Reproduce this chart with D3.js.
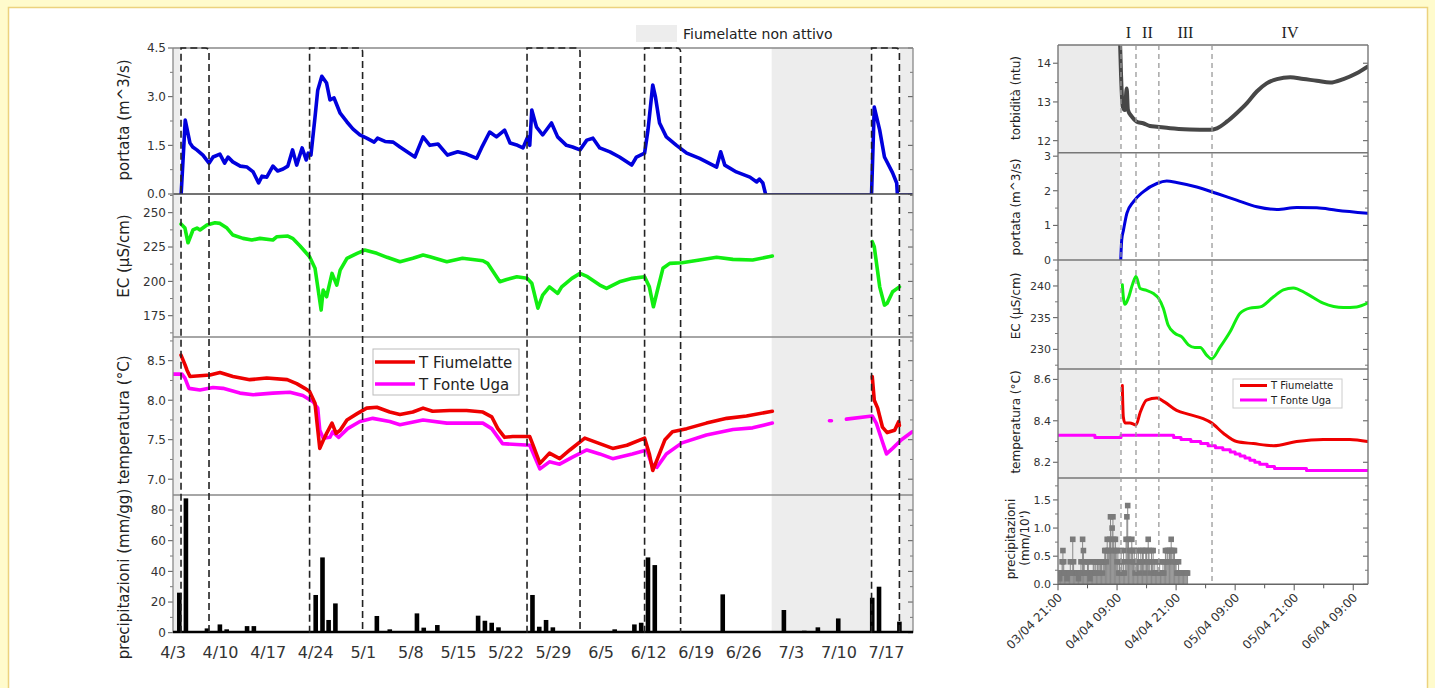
<!DOCTYPE html>
<html>
<head>
<meta charset="utf-8">
<script src="https://cdn.jsdelivr.net/npm/d3@7"></script>
<style>
  body { margin: 0; background: #fffbcc; }
  svg { display: block; font-family: "DejaVu Sans", Verdana, sans-serif; }
</style>
</head>
<body>
<svg id="chart" width="1435" height="688"></svg>
<script>
// ---- left chart data (days after 4/3) ----
const flowDay = [1.2,1.8,2.5,2.9,3.5,4.4,5.3,5.9,6.9,7.6,8.1,8.8,9.9,10.9,11.8,12.6,13.1,13.8,14.7,15.4,16.2,16.9,17.6,18.2,19.0,19.6,19.9,20.3,20.9,21.3,21.9,22.6,23.1,23.7,24.6,25.6,26.5,27.5,28.5,29.6,30.1,31.2,32.4,33.4,35.6,36.8,37.8,39.0,40.4,41.9,43.2,44.7,45.4,46.6,47.6,48.8,49.6,50.7,51.5,52.2,52.5,52.8,53.5,54.4,55.7,56.6,57.9,58.8,59.9,60.9,61.8,62.8,64.3,65.7,67.5,68.2,69.4,69.9,70.6,71.0,71.6,72.6,74.1,75.6,77.5,80.0,80.6,81.2,82.9,84.9,85.9,86.3,86.8,87.2,null,102.8,103.2,104.0,104.7,105.9,106.5,106.6];
const flowQ   = [0,2.28,1.57,1.45,1.36,1.2,0.95,1.14,1.23,0.95,1.14,0.99,0.86,0.83,0.68,0.34,0.55,0.52,0.86,0.71,0.77,0.86,1.36,0.89,1.42,1.05,1.26,1.2,2.37,3.2,3.63,3.42,2.9,2.96,2.49,2.22,2.0,1.82,1.72,1.6,1.72,1.62,1.6,1.45,1.14,1.76,1.5,1.54,1.2,1.3,1.23,1.1,1.42,1.91,1.76,1.97,1.57,1.5,1.42,1.76,1.5,2.59,2.06,1.82,2.19,1.76,1.5,1.45,1.36,1.66,1.72,1.42,1.3,1.14,0.89,1.14,1.26,1.97,3.36,2.99,2.19,1.76,1.5,1.26,1.1,0.83,1.3,0.89,0.68,0.52,0.37,0.46,0.34,0,null,0,2.68,1.97,1.14,0.65,0.34,0];
const flowZero = [[87.2, 102.8], [106.6, 108.9]];

const ecDay = [1.18,1.76,2.21,2.94,3.53,3.97,5.0,6.18,6.91,7.94,8.82,10.3,11.6,12.8,14.7,15.3,16.9,17.6,18.7,20.1,20.9,21.3,21.8,22.1,22.6,23.4,24.1,24.6,25.6,27.1,28.2,30.0,31.5,33.4,35.3,36.8,37.8,40.3,42.6,45.6,46.3,48.1,49.1,50.6,52.1,52.8,53.7,54.4,55.4,56.6,57.2,58.7,59.9,61.0,62.8,63.8,65.7,67.6,69.4,70.1,70.7,71.3,72.1,73.1,74.9,77.5,80.0,82.4,85.3,88.2,null,102.9,103.2,104.0,104.7,105.1,105.9,106.9];
const ecVal = [241.8,238.8,228.1,237.4,238.8,237.4,241,242.7,242.2,238.8,233.7,231.3,230.1,231.3,230.1,232.5,233,231.3,225.7,217.9,209.5,196,179.1,193.7,188.8,205.8,197.3,208.2,216.8,220.4,222.8,220.4,217.5,214.3,216.8,219.2,217.9,214.3,216.8,215,213.1,199.7,201.4,203.4,202.2,198.6,180.5,190,196,191.2,196,202.2,205.8,203.4,197.3,194.9,199.7,202.2,203.4,196,181.5,193.7,209.5,213.1,213.6,215.5,217.5,216,215.5,218.4,null,228.9,225.2,196,182.7,184,192.4,196];

const tfDay = [1.18,1.47,1.76,2.06,2.5,3.97,5.44,6.91,8.82,11.3,13.8,16.8,18.2,19.4,20.1,20.9,21.2,21.6,22.1,22.6,23.4,24.0,24.6,25.6,27.1,28.5,30.0,31.9,33.4,35.3,36.8,38.2,40.7,43.2,45.6,46.9,47.8,48.8,50.0,52.5,52.9,54.0,55.4,56.9,58.4,60.6,62.8,64.7,66.8,69.4,70.1,70.6,71.3,72.4,73.5,75.6,78.5,81.5,84.4,88.2,null,102.9,103.2,103.7,104.4,105.1,106.2,106.8,106.9];
const tfVal = [8.57,8.51,8.45,8.38,8.3,8.31,8.32,8.35,8.3,8.26,8.28,8.26,8.21,8.15,8.11,7.96,7.71,7.39,7.49,7.58,7.71,7.58,7.62,7.75,7.83,7.9,7.91,7.85,7.82,7.85,7.9,7.86,7.87,7.87,7.85,7.79,7.64,7.53,7.54,7.54,7.45,7.2,7.33,7.26,7.37,7.52,7.45,7.39,7.43,7.52,7.32,7.11,7.26,7.5,7.6,7.64,7.71,7.77,7.8,7.86,null,8.3,8.0,7.9,7.66,7.59,7.62,7.73,7.68];

const tuDay = [0,1.32,1.76,2.35,3.97,5.88,7.35,9.85,11.8,14.7,17.2,19.1,20.6,21.3,21.6,22.1,23.1,23.5,24.4,25.7,27.5,29.4,31.9,33.4,36.8,40.3,45.6,46.9,48.5,52.5,54.0,55.4,56.9,58.8,60.9,62.8,64.7,67.6,69.7,70.4,71.2,72.6,74.9,78.5,82.4,85.3,88.2,null,96.6,96.9,null,99.1,102.9,103.5,104.3,105.0,105.9,107.2,108.8];
const tuVal = [8.33,8.33,8.28,8.15,8.13,8.16,8.15,8.09,8.07,8.09,8.1,8.06,7.98,7.9,7.62,7.52,7.53,7.6,7.53,7.64,7.73,7.77,7.73,7.69,7.75,7.71,7.71,7.64,7.45,7.43,7.13,7.22,7.19,7.28,7.37,7.32,7.26,7.32,7.37,7.2,7.15,7.32,7.46,7.56,7.63,7.65,7.71,null,7.74,7.74,null,7.76,7.8,7.71,7.5,7.32,7.39,7.5,7.6];

const rainDay = [0.93,1.9,4.0,5.0,6.9,7.9,10.9,11.9,16.0,16.9,21.0,22.0,22.9,23.9,30.0,30.9,31.9,35.9,36.9,38.9,44.9,45.9,46.9,47.9,52.9,53.9,54.9,55.9,65.0,67.9,68.9,69.9,70.9,80.9,89.9,92.9,94.9,97.9,102.9,103.9,106.9];
const rainMm  = [26.1,87.6,1.1,2.8,5.4,2.2,4.3,4.3,0.7,1.1,24.6,49.1,8.3,19.1,10.9,0.7,2.2,12.6,3.3,5.0,11.1,7.8,6.5,3.5,24.6,3.9,8.3,3.5,2.2,5.4,6.5,49.1,44.1,25,14.8,1.3,3.5,9.3,22.8,30,7.2];

const eventDays = [[1.18, 5.3], [20.1, 27.9], [52.1, 59.9], [69.4, 74.7], [102.8, 106.9]];
const offDays = [[0, 1.0], [88.1, 102.6], [107.0, 108.9]];

// ---- right chart data (hours after 03/04 21:00) ----
const turbHour = [12.5,12.8,13.15,13.6,13.96,14.2,15.0,16.0,17.3,18.7,20.1,22.8,26.8,30.9,32.3,34.3,36.3,38.4,40.4,42.4,44.5,47.2,49.9,52.6,55.3,58.0,60.7,62.9];
const turbVal  = [15,13.74,12.88,12.79,13.35,12.8,12.62,12.49,12.45,12.38,12.36,12.32,12.29,12.28,12.32,12.49,12.71,12.97,13.27,13.48,13.59,13.64,13.59,13.55,13.5,13.59,13.74,13.91];

const qHour = [12.75,12.95,13.3,14.0,15.3,17.3,20.1,22.1,24.1,28.2,32.3,36.3,40.4,44.5,48.5,52.6,56.6,62.9];
const qVal  = [0,0.58,0.86,1.35,1.68,1.97,2.21,2.28,2.24,2.11,1.92,1.73,1.54,1.46,1.52,1.51,1.44,1.35];

const ecHour = [13.07,13.27,13.6,14.3,15.2,15.85,16.7,18.0,19.4,20.4,21.4,22.4,23.8,25.1,26.5,27.8,28.9,30.2,31.2,32.9,35.0,37.0,39.0,41.1,43.8,45.8,47.8,50.5,53.9,58.0,60.7,62.9];
const ecValR = [240.2,238.3,237.1,238.1,240.4,241.5,239.6,239.3,238.8,238.1,236.5,233.8,232.5,232,230.7,230.3,230.3,229.1,228.5,230.3,232.8,235.7,236.5,236.7,238.3,239.4,239.7,238.8,237.3,236.6,236.7,237.3];

const tfHour = [13.07,13.27,13.6,14.6,15.85,16.7,18.0,20.1,21.7,24.1,26.8,29.5,31.2,33.6,36.3,39.7,43.8,48.5,53.9,59.3,62.9];
const tfValR = [8.57,8.42,8.39,8.39,8.38,8.44,8.5,8.51,8.49,8.45,8.43,8.41,8.39,8.34,8.3,8.29,8.28,8.3,8.31,8.31,8.3];

const tuHour = [0,7.5,12.8,23.5,25,27,29,30.5,32,33.5,35,36,37,38,39,40,41,42.5,44,50.5,63];
const tuValR = [8.33,8.32,8.33,8.32,8.31,8.30,8.29,8.28,8.27,8.26,8.25,8.24,8.23,8.22,8.21,8.20,8.19,8.18,8.17,8.16,8.16];

// precipitation every 10 minutes from 03/04 21:00 (mm/10')
const rain10 = [
  0.2,0.2,0.1,0.2,0.2,0.4, 0.6,0.4,0.2,0.2,0.2,0.1, 0.2,0.2,0.2,0.4,0.2,0.2,
  0.8,0.4,0.2,0.2,0.2,0.2, 0.2,0.1,0.2,0.2,0.4,0.2, 0.8,0.6,0.4,0.2,0.2,0.2,
  0.4,0.4,0.2,0.1,0.2,0.2, 0.2,0.4,0.4,0.2,0.4,0.2, 0.4,0.4,0.2,0.4,0.4,0.4,
  0.2,0.4,0.4,0.6,0.6,0.4, 0.8,0.6,0.6,0.8,1.2,0.6, 1.0,1.2,0.8,0.6,0.8,0.6,
  0.4,0.6,0.2,0.4,0.2,0.6, 0.4,0.2,0.6,0.2,0.4,0.8, 1.2,1.4,0.8,0.6,0.4,0.6,
  0.8,0.6,0.4,0.6,0.2,0.4, 0.6,0.4,0.6,0.2,0.4,0.6, 0.4,0.6,0.6,0.4,0.2,0.6,
  0.6,0.4,0.8,0.6,0.4,0.2, 0.6,0.4,0.6,0.2,0.4,0.2, 0.2,0.4,0.2,0.2,0.4,0.2,
  0.2,0.2,0.4,0.2,0.4,0.6, 0.4,0.6,0.6,0.4,0.6,0.6, 0.8,0.6,0.4,0.6,0.6,0.4,
  0.4,0.2,0.2,0.4,0.2,0.2, 0.2,0.2,0.2,0.2,0.2,0.2, 0.2,0.2,0.2
];
const phaseHours = [12.8, 15.85, 20.5, 31.3, 63];
const phaseNames = ["I", "II", "III", "IV"];
const offHours = [0, 12.6];

// ---------------------------------------------------------------
const svg = d3.select("#chart");
svg.append("rect").attr("x", 8.5).attr("y", 7.5).attr("width", 1419).attr("height", 700)
    .attr("fill", "#fff").attr("stroke", "#ecd27e").attr("stroke-width", 1.5);

const DAY = 864e5, HOUR = 36e5;
const start = new Date(2019, 3, 3);
const startR = new Date(2019, 3, 3, 21);
const atDay = d => new Date(+start + d * DAY);
const atHour = h => new Date(+startR + h * HOUR);

const xL = d3.scaleTime().domain([start, atDay(108.9)]).range([173, 913]);
const xR = d3.scaleTime().domain([startR, atHour(63)]).range([1058, 1368]);

let clipId = 0;
function drawPanel(o) {
    let y = d3.scaleLinear().domain(o.domain).range([o.bottom, o.top]);
    let g = svg.append("g");
    let lo = o.domain[0], hi = o.domain[1];
    let minor = d3.range(Math.ceil(lo / o.minor - 1e-6) * o.minor, hi + 1e-6, o.minor)
        .filter(v => !o.ticks.some(t => Math.abs(t - v) < 1e-6));

    // ticks left (outward) and right (inward)
    g.selectAll(".maj").data(o.ticks).enter().append("path")
        .attr("d", v => `M${o.x0 - 5},${y(v)}H${o.x0}M${o.x1 - 5},${y(v)}H${o.x1}`)
        .attr("stroke", "#555").attr("stroke-width", 1);
    g.selectAll(".min").data(minor).enter().append("path")
        .attr("d", v => `M${o.x0 - 3},${y(v)}H${o.x0}M${o.x1 - 3},${y(v)}H${o.x1}`)
        .attr("stroke", "#777").attr("stroke-width", 1);

    g.selectAll("text").data(o.ticks).enter().append("text")
        .attr("x", o.x0 - 7).attr("y", v => y(v)).attr("dy", "0.36em")
        .attr("text-anchor", "end").attr("font-size", o.fs).attr("fill", "#333")
        .text(o.fmt);

    o.title.forEach(t => {
        g.append("text")
            .attr("transform", `translate(${t.x},${t.y}) rotate(-90)`)
            .attr("text-anchor", "middle").attr("font-size", o.tfs).attr("fill", "#222")
            .text(t.text);
    });

    let id = "clip" + (clipId++);
    svg.append("clipPath").attr("id", id).append("rect")
        .attr("x", o.x0).attr("y", o.top).attr("width", o.x1 - o.x0).attr("height", o.bottom - o.top);
    let plot = svg.append("g").attr("clip-path", `url(#${id})`);
    return {y: y, plot: plot};
}

function addLine(panel, x, xs, ys, color, width, curve) {
    let data = d3.zip(xs, ys);
    let line = d3.line()
        .defined(d => d[1] != null)
        .x(d => x(d[0]))
        .y(d => panel.y(d[1]))
        .curve(curve || d3.curveLinear);
    panel.plot.append("path").datum(data)
        .attr("d", line).attr("fill", "none")
        .attr("stroke", color).attr("stroke-width", width)
        .attr("stroke-linejoin", "round").attr("stroke-linecap", "round");
}

// ================= LEFT CHART =================
const L = {x0: 173, x1: 913, top: 48, bottom: 632.7};

// inactive shading
svg.selectAll(".offL").data(offDays).enter().append("rect")
    .attr("x", d => xL(atDay(d[0]))).attr("y", L.top)
    .attr("width", d => xL(atDay(d[1])) - xL(atDay(d[0])))
    .attr("height", L.bottom - L.top).attr("fill", "#ededed");

const f1 = d3.format(".1f");
const pQ = drawPanel({x0: L.x0, x1: L.x1, top: 48, bottom: 194, domain: [0, 4.5],
    ticks: [0, 1.5, 3, 4.5], minor: 0.75, fmt: f1, fs: 12, tfs: 15,
    title: [{x: 129, y: 120, text: "portata (m^3/s)"}]});
const pE = drawPanel({x0: L.x0, x1: L.x1, top: 194, bottom: 337, domain: [159.5, 263.6],
    ticks: [175, 200, 225, 250], minor: 12.5, fmt: d3.format("d"), fs: 12, tfs: 15,
    title: [{x: 129, y: 256, text: "EC (µS/cm)"}]});
const pT = drawPanel({x0: L.x0, x1: L.x1, top: 337, bottom: 495, domain: [6.8, 8.8],
    ticks: [7, 7.5, 8, 8.5], minor: 0.25, fmt: f1, fs: 12, tfs: 15,
    title: [{x: 129, y: 420, text: "temperatura (°C)"}]});
const pP = drawPanel({x0: L.x0, x1: L.x1, top: 495, bottom: 632.7, domain: [0, 89.8],
    ticks: [0, 20, 40, 60, 80], minor: 10, fmt: d3.format("d"), fs: 12, tfs: 15,
    title: [{x: 129, y: 574, text: "precipitazioni (mm/gg)"}]});

// frame and separators
[48, 194, 337, 495].forEach((yy, i) => {
    svg.append("line").attr("x1", L.x0).attr("x2", L.x1).attr("y1", yy).attr("y2", yy)
        .attr("stroke", i == 1 ? "#444" : "#888").attr("stroke-width", 1.3);
});
svg.append("line").attr("x1", L.x0).attr("x2", L.x0).attr("y1", L.top).attr("y2", L.bottom)
    .attr("stroke", "#888").attr("stroke-width", 1.3);
svg.append("line").attr("x1", L.x1).attr("x2", L.x1).attr("y1", L.top).attr("y2", L.bottom)
    .attr("stroke", "#888").attr("stroke-width", 1.3);

// series
const xd = d => xL(atDay(d));
flowZero.forEach(z => addLine(pQ, xd, z, [0, 0], "#0000dd", 1.5));
addLine(pQ, xd, flowDay, flowQ, "#0000dd", 3.6);
addLine(pE, xd, ecDay, ecVal, "#11ee11", 3.6);
addLine(pT, xd, tuDay, tuVal, "#ff00ff", 3.6);
addLine(pT, xd, tfDay, tfVal, "#ee0000", 3.6);

pP.plot.selectAll("rect").data(d3.zip(rainDay, rainMm)).enter().append("rect")
    .attr("x", d => xd(d[0]) - 2.3).attr("width", 4.6)
    .attr("y", d => pP.y(d[1])).attr("height", d => pP.y(0) - pP.y(d[1]))
    .attr("fill", "#000");
svg.append("line").attr("x1", L.x0).attr("x2", L.x1).attr("y1", 632).attr("y2", 632)
    .attr("stroke", "#000").attr("stroke-width", 2.5);

// event brackets
svg.selectAll(".ev").data(eventDays).enter().append("path")
    .attr("d", d => {
        let a = xd(d[0]), b = xd(d[1]);
        return `M${a},${L.bottom}V${L.top}H${b - 4}Q${b},${L.top} ${b},${L.top + 4}V${L.bottom}`;
    })
    .attr("fill", "none").attr("stroke", "#222").attr("stroke-width", 1.6)
    .attr("stroke-dasharray", "7,4");

// x axis labels
svg.append("g").selectAll("text").data(d3.range(0, 106, 7)).enter().append("text")
    .attr("x", d => xd(d)).attr("y", 658).attr("text-anchor", "middle")
    .attr("font-size", 16).attr("fill", "#333")
    .text(d => d3.timeFormat("%-m/%-d")(atDay(d)));

// legends
svg.append("rect").attr("x", 636).attr("y", 25).attr("width", 41).attr("height", 17).attr("fill", "#ededed");
svg.append("text").attr("x", 683).attr("y", 39).attr("font-size", 14).attr("fill", "#222")
    .text("Fiumelatte non attivo");

const legL = svg.append("g");
legL.append("rect").attr("x", 373).attr("y", 349).attr("width", 146).attr("height", 46)
    .attr("fill", "#fff").attr("stroke", "#bbb");
[["T Fiumelatte", "#ee0000", 362], ["T Fonte Uga", "#ff00ff", 384]].forEach(e => {
    legL.append("line").attr("x1", 375).attr("x2", 415).attr("y1", e[2]).attr("y2", e[2])
        .attr("stroke", e[1]).attr("stroke-width", 3.5);
    legL.append("text").attr("x", 419).attr("y", e[2] + 5.5).attr("font-size", 15).attr("fill", "#222").text(e[0]);
});

// ================= RIGHT CHART =================
const R = {x0: 1058, x1: 1368, top: 45, bottom: 584.3};
const xh = h => xR(atHour(h));

svg.append("rect").attr("x", xh(offHours[0])).attr("y", R.top)
    .attr("width", xh(offHours[1]) - xh(offHours[0])).attr("height", R.bottom - R.top)
    .attr("fill", "#ebebeb");

const rTb = drawPanel({x0: R.x0, x1: R.x1, top: 45, bottom: 152.7, domain: [11.69, 14.47],
    ticks: [12, 13, 14], minor: 0.5, fmt: d3.format("d"), fs: 11, tfs: 12,
    title: [{x: 1020, y: 98, text: "torbidità (ntu)"}]});
const rQ = drawPanel({x0: R.x0, x1: R.x1, top: 152.7, bottom: 260, domain: [0, 3.1],
    ticks: [0, 1, 2, 3], minor: 0.5, fmt: d3.format("d"), fs: 11, tfs: 12,
    title: [{x: 1020, y: 207, text: "portata (m^3/s)"}]});
const rE = drawPanel({x0: R.x0, x1: R.x1, top: 260, bottom: 369, domain: [226.9, 244.1],
    ticks: [230, 235, 240], minor: 2.5, fmt: d3.format("d"), fs: 11, tfs: 12,
    title: [{x: 1020, y: 306, text: "EC (µS/cm)"}]});
const rT = drawPanel({x0: R.x0, x1: R.x1, top: 369, bottom: 478, domain: [8.124, 8.65],
    ticks: [8.2, 8.4, 8.6], minor: 0.1, fmt: f1, fs: 11, tfs: 12,
    title: [{x: 1020, y: 422, text: "temperatura (°C)"}]});
const rP = drawPanel({x0: R.x0, x1: R.x1, top: 478, bottom: 584.3, domain: [0, 1.89],
    ticks: [0, 0.5, 1, 1.5], minor: 0.25, fmt: f1, fs: 11, tfs: 12,
    title: [{x: 1015, y: 539, text: "precipitazioni"}, {x: 1029, y: 538, text: "(mm/10')"}]});

[45, 152.7, 260, 369, 478].forEach(yy => {
    svg.append("line").attr("x1", R.x0).attr("x2", R.x1).attr("y1", yy).attr("y2", yy)
        .attr("stroke", "#777").attr("stroke-width", 1.4);
});
svg.append("line").attr("x1", R.x0).attr("x2", R.x1).attr("y1", R.bottom).attr("y2", R.bottom)
    .attr("stroke", "#666").attr("stroke-width", 1.6);
[R.x0, R.x1].forEach(xx => {
    svg.append("line").attr("x1", xx).attr("x2", xx).attr("y1", R.top).attr("y2", R.bottom)
        .attr("stroke", "#777").attr("stroke-width", 1.4);
});

// phase dashed lines and labels
svg.selectAll(".ph").data(phaseHours.slice(0, 4)).enter().append("line")
    .attr("x1", d => xh(d)).attr("x2", d => xh(d)).attr("y1", R.top).attr("y2", R.bottom)
    .attr("stroke", "#999").attr("stroke-width", 1.3).attr("stroke-dasharray", "5,4");
svg.selectAll(".phl").data(phaseNames).enter().append("text")
    .attr("x", (d, i) => (xh(phaseHours[i]) + xh(phaseHours[i + 1])) / 2)
    .attr("y", 38).attr("text-anchor", "middle")
    .attr("font-family", "Liberation Serif, serif").attr("font-size", 16).attr("fill", "#222")
    .text(d => d);

// series
addLine(rTb, xh, turbHour, turbVal, "#474747", 4, d3.curveMonotoneX);
addLine(rQ, xh, qHour, qVal, "#0000dd", 3, d3.curveMonotoneX);
addLine(rE, xh, ecHour, ecValR, "#11ee11", 3, d3.curveMonotoneX);
addLine(rT, xh, tuHour, tuValR, "#ff00ff", 3, d3.curveStepAfter);
addLine(rT, xh, tfHour, tfValR, "#ee0000", 3, d3.curveMonotoneX);

const rainPts = rain10.map((v, i) => [i / 6, v]);
rP.plot.selectAll("line").data(rainPts).enter().append("line")
    .attr("x1", d => xh(d[0])).attr("x2", d => xh(d[0]))
    .attr("y1", rP.y(0)).attr("y2", d => rP.y(d[1]))
    .attr("stroke", "#888").attr("stroke-width", 1);
rP.plot.selectAll("rect").data(rainPts).enter().append("rect")
    .attr("x", d => xh(d[0]) - 2.8).attr("y", d => rP.y(d[1]) - 2.8)
    .attr("width", 5.6).attr("height", 5.6).attr("fill", "#7a7a7a");

// x axis (time)
const majH = d3.range(0, 61, 12), minH = d3.range(6, 63, 12);
svg.selectAll(".tmaj").data(majH).enter().append("line")
    .attr("x1", d => xh(d)).attr("x2", d => xh(d)).attr("y1", R.bottom).attr("y2", R.bottom + 6)
    .attr("stroke", "#555");
svg.selectAll(".tmin").data(minH).enter().append("line")
    .attr("x1", d => xh(d)).attr("x2", d => xh(d)).attr("y1", R.bottom).attr("y2", R.bottom + 4)
    .attr("stroke", "#555");
const fmtR = d3.timeFormat("%d/%m %H:%M");
svg.selectAll(".tlab").data(majH).enter().append("text")
    .attr("transform", d => `translate(${xh(d) + 5},${R.bottom + 14}) rotate(-45)`)
    .attr("text-anchor", "end").attr("font-size", 12).attr("fill", "#333")
    .text(d => fmtR(atHour(d)));

// right legend
const legR = svg.append("g");
legR.append("rect").attr("x", 1233).attr("y", 379).attr("width", 109).attr("height", 29)
    .attr("fill", "#fff").attr("stroke", "#ccc");
[["T Fiumelatte", "#ee0000", 385.5], ["T Fonte Uga", "#ff00ff", 400]].forEach(e => {
    legR.append("line").attr("x1", 1240).attr("x2", 1267).attr("y1", e[2]).attr("y2", e[2])
        .attr("stroke", e[1]).attr("stroke-width", 3);
    legR.append("text").attr("x", 1271).attr("y", e[2] + 3.5).attr("font-size", 10).attr("fill", "#222").text(e[0]);
});
</script>
</body>
</html>
